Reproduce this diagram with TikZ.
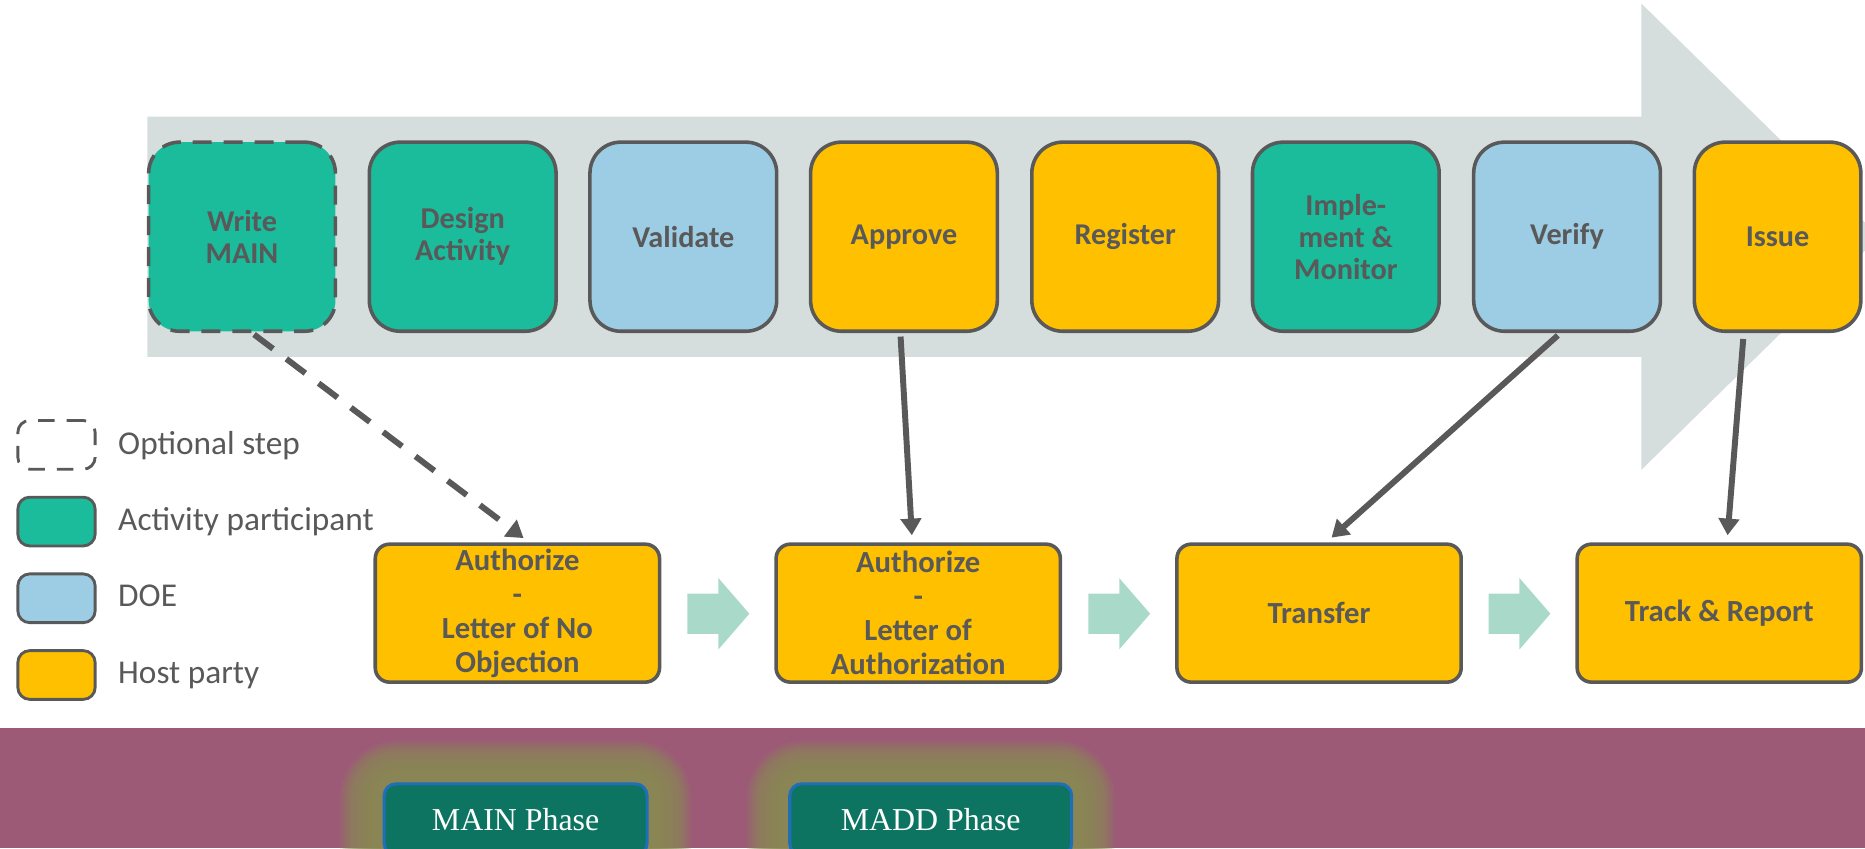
\documentclass[tikz,border=0pt]{standalone}
\usepackage{fontspec}
\setmainfont{Carlito}
\newfontfamily\phasefont{Liberation Serif}
\usetikzlibrary{arrows.meta}
\definecolor{arrowgray}{HTML}{D6DEDD}
\definecolor{edgegray}{HTML}{595959}
\definecolor{tealc}{HTML}{1ABC9C}
\definecolor{lblue}{HTML}{9DCDE4}
\definecolor{yellowc}{HTML}{FFC000}
\definecolor{mint}{HTML}{A9D9C9}
\definecolor{band}{HTML}{9C5A77}
\definecolor{btn}{HTML}{0C7461}
\definecolor{btnborder}{HTML}{1E6EB8}
\definecolor{glow}{HTML}{8A8A55}
\begin{document}
\begin{tikzpicture}[x=0.5pt,y=-0.5pt,
  topbox/.style={draw=edgegray, line width=1.5pt, rounded corners=13pt, minimum width=78.5pt, minimum height=79.5pt, inner sep=2pt, align=center, text=edgegray, font=\fontsize{12.7}{13.5}\selectfont\bfseries},
  optional/.style={dash pattern=on 8pt off 5pt},
  activity/.style={fill=tealc},
  doe/.style={fill=lblue},
  host/.style={fill=yellowc},
  botbox/.style={draw=edgegray, line width=1.5pt, rounded corners=6pt, fill=yellowc, minimum width=119.5pt, minimum height=58pt, inner sep=1pt, align=center, text=edgegray, font=\fontsize{12.9}{14.3}\selectfont\bfseries},
  legbox/.style={draw=edgegray, line width=1.2pt, rounded corners=5pt, minimum width=32.5pt, minimum height=20.5pt, inner sep=0pt},
  legtext/.style={anchor=mid west, text=edgegray, font=\fontsize{14}{16}\selectfont, inner sep=0pt},
  flow/.style={draw=edgegray, line width=2.5pt, -{Triangle[length=7pt,width=8.5pt]}},
  blockarrow/.style={fill=mint},
  phase/.style={fill=btn, draw=btnborder, line width=1.3pt, rounded corners=5pt, minimum width=110.5pt, minimum height=30pt, inner sep=0pt, text=white, font=\phasefont\fontsize{13.4}{15}\selectfont}
]
\useasboundingbox (0,0) rectangle (1568,713);
\clip (0,0) rectangle (1568,713);

% big process arrow
\fill[arrowgray] (124,98) -- (1380,98) -- (1380,3) -- (1580,199) -- (1380,395) -- (1380,300) -- (124,300) -- cycle;

% top steps
\node[topbox, activity, optional] (write) at (203.5,199) {Write\\MAIN};
\node[topbox, activity] (design) at (389,199) {Design\\Activity};
\node[topbox, doe] (validate) at (574.5,199) {Validate};
\node[topbox, host] (approve) at (760,199) {Approve};
\node[topbox, host] (register) at (946,199) {Register};
\node[topbox, activity] (implement) at (1131.5,199) {Imple-\\ment \&\\Monitor};
\node[topbox, doe] (verify) at (1317.5,199) {Verify};
\node[topbox, host, minimum width=70pt] (issue) at (1494.5,199) {Issue};

% bottom steps
\node[botbox] (lono) at (435,515.5) {Authorize\\-\\Letter of No\\Objection};
\node[botbox] (loa) at (772,515.5) {Authorize\\-\\Letter of\\Authorization};
\node[botbox] (transfer) at (1109,515.5) {Transfer};
\node[botbox] (track) at (1445.5,515.5) {Track \& Report};

% block arrows between bottom steps
\coordinate (m1) at (604,516);
\coordinate (m2) at (941,516);
\coordinate (m3) at (1277.5,516);
\foreach \m in {m1,m2,m3}
  \fill[blockarrow, shift={(\m)}] (-26,-17) -- (0,-17) -- (0,-30) -- (26,0) -- (0,30) -- (0,17) -- (-26,17) -- cycle;

% connectors
\draw[flow, dash pattern=on 10pt off 7pt, shorten <=1pt, shorten >=3pt] ([xshift=4.25pt]write.south) -- ([xshift=5pt]lono.north);
\draw[flow, shorten <=1.5pt, shorten >=3pt] ([xshift=-1.5pt]approve.south) -- ([xshift=-2.5pt]loa.north);
\draw[flow, shorten <=1.5pt, shorten >=3pt] ([xshift=-2.75pt]verify.south) -- ([xshift=3pt]transfer.north);
\draw[flow, shorten <=2.5pt, shorten >=3pt] ([xshift=-14.25pt]issue.south) -- ([xshift=3.25pt]track.north);

% legend
\node[legbox, dash pattern=on 7pt off 5pt] (lopt) at (47.5,374) {};
\node[legbox, fill=tealc] (lact) at (47.5,438.5) {};
\node[legbox, fill=lblue] (ldoe) at (47.5,503) {};
\node[legbox, fill=yellowc] (lhost) at (47.5,567.5) {};
\node[legtext] (topt) at (99,377) {Optional step};
\node[legtext] (tact) at (99,441) {Activity participant};
\node[legtext] (tdoe) at (99,505) {DOE};
\node[legtext] (thost) at (99,570) {Host party};

% bottom band with phase buttons
\fill[band] (0,612) rectangle (1568,713);
\foreach \i in {18,17,...,1} {
  \fill[glow, opacity=0.18, rounded corners={6pt+\i pt}] ({322-2*\i},{659-2*\i}) rectangle ({545+2*\i},{725+2*\i});
  \fill[glow, opacity=0.18, rounded corners={6pt+\i pt}] ({664-2*\i},{659-2*\i}) rectangle ({901+2*\i},{725+2*\i});
}
\node[phase] (mainph) at (433.5,689) {MAIN Phase};
\node[phase, minimum width=118.5pt] (maddph) at (782.5,689) {MADD Phase};
\end{tikzpicture}
\end{document}
